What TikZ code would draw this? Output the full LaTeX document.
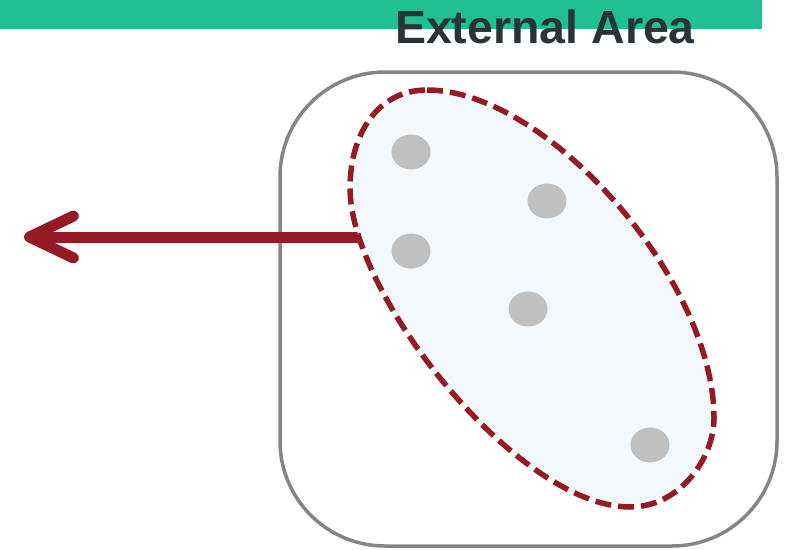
\documentclass[tikz,border=0pt]{standalone}
\usepackage{fontspec}
\setmainfont{Liberation Sans}
\usetikzlibrary{arrows.meta,shapes.geometric}
\definecolor{barGreen}{HTML}{20C094}
\definecolor{titleGray}{HTML}{2B3338}
\definecolor{zoneRed}{HTML}{951A24}
\definecolor{zoneFill}{HTML}{F2F8FB}
\definecolor{frameGray}{HTML}{858585}
\definecolor{dotGray}{HTML}{C0C0C0}
\begin{document}
\begin{tikzpicture}[x=1pt,y=-1pt,
frame/.style={draw=frameGray,line width=3.5pt,rounded corners=105pt,minimum width=497pt,minimum height=474pt,inner sep=0pt},
zone/.style={draw=zoneRed,fill=zoneFill,line width=5.5pt,dash pattern=on 16pt off 7pt},
item/.style={ellipse,fill=dotGray,minimum width=39pt,minimum height=35pt,inner sep=0pt},
arr/.style={-{Straight Barb[length=44pt,width=42pt,round]},line width=11pt,draw=zoneRed}]
\useasboundingbox (0,0) rectangle (792,549);
\fill[barGreen] (0,0) rectangle (762,29);
\node[anchor=base,font=\bfseries\fontsize{46.5}{50}\selectfont,text=titleGray](title) at (545,43){External Area};
\node[frame](area) at (528.5,309){};
\coordinate (exit) at (361,237);
\coordinate (out) at (24,237);
\draw[arr](exit)--(out);
% grouped elements
\draw[zone] (427,90) .. controls (547,90) and (714,280) .. (714,418)
  .. controls (714,458) and (680,507) .. (630,507)
  .. controls (518,507) and (350,295) .. (350,188)
  .. controls (350,135) and (377,90) .. (427,90) -- cycle;
\node[item](a) at (411,152){};
\node[item](b) at (547,201){};
\node[item](c) at (411,251){};
\node[item](d) at (528,309){};
\node[item](e) at (650,445){};
\end{tikzpicture}
\end{document}
